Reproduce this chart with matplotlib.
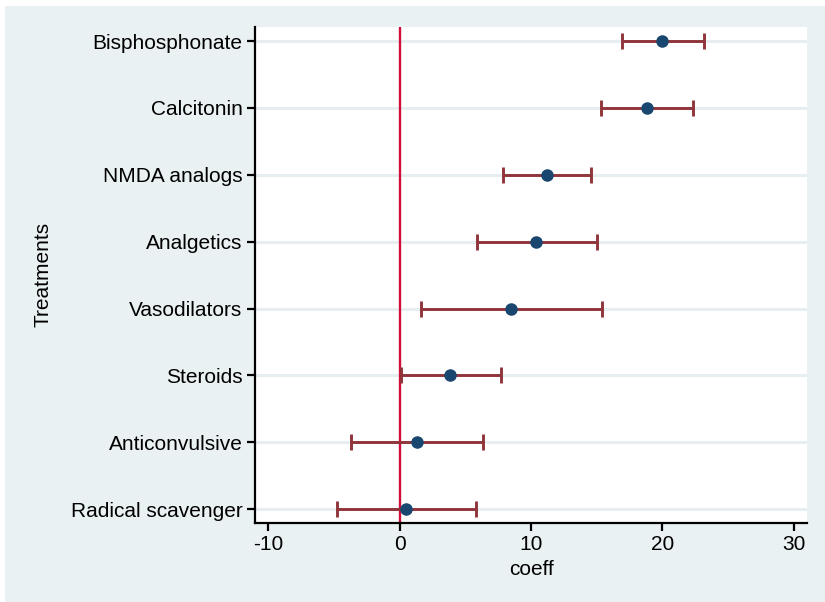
import matplotlib
matplotlib.use("Agg")
import matplotlib.pyplot as plt
from matplotlib.patches import Rectangle

treatments = ["Bisphosphonate", "Calcitonin", "NMDA analogs", "Analgetics",
              "Vasodilators", "Steroids", "Anticonvulsive", "Radical scavenger"]
coeff = [20.0, 18.8, 11.2, 10.4, 8.5, 3.85, 1.3, 0.48]
ci_low = [16.9, 15.3, 7.85, 5.9, 1.65, 0.1, -3.67, -4.75]
ci_high = [23.2, 22.3, 14.6, 15.0, 15.4, 7.68, 6.37, 5.83]
xticks = [-10, 0, 10, 20, 30]

plt.rcParams['font.family'] = ['Liberation Sans', 'DejaVu Sans']

W, H = 825, 602
fig = plt.figure(figsize=(W / 100, H / 100), dpi=100, facecolor="white")
bg = "#EAF1F3"
fig.patches.append(Rectangle((5 / W, 0), 1 - 5 / W, 1 - 6 / H, transform=fig.transFigure,
                             facecolor=bg, edgecolor="none", zorder=-10))

ax = fig.add_axes([255 / W, (H - 522.5) / H, (807 - 255) / W, (522.5 - 27) / H])
ax.set_zorder(5)
ax.set_facecolor("white")

n = len(treatments)
ypos = [n - i for i in range(n)]

for y in ypos:
    ax.axhline(y, color="#E6EEF1", lw=2.2, zorder=1)

ax.axvline(0, color="#D0103A", lw=1.7, zorder=2)

xerr = [[c - l for c, l in zip(coeff, ci_low)], [h - c for c, h in zip(coeff, ci_high)]]
ax.errorbar(coeff, ypos, xerr=xerr, fmt="o", color="#1A476F", ms=8,
            ecolor="#90353B", elinewidth=2.1, capsize=5.5, capthick=2.1, zorder=3)

ax.set_xlim(-11, 31)
ax.set_ylim(0.8, 8.21)
ax.set_xticks(xticks)
ax.set_xticklabels([str(t) for t in xticks], fontsize=15)
ax.set_yticks(ypos)
ax.set_yticklabels(treatments, fontsize=15)
ax.tick_params(axis="both", direction="out", length=6, width=1.6, color="black", pad=3)

for s in ["top", "right"]:
    ax.spines[s].set_visible(False)
for s in ["left", "bottom"]:
    ax.spines[s].set_linewidth(1.6)
    ax.spines[s].set_color("black")

ax.set_xlabel("coeff", fontsize=15, labelpad=4)
ax.set_ylabel("Treatments", fontsize=15, labelpad=13)

fig.savefig("out.png", dpi=100, facecolor="white")
